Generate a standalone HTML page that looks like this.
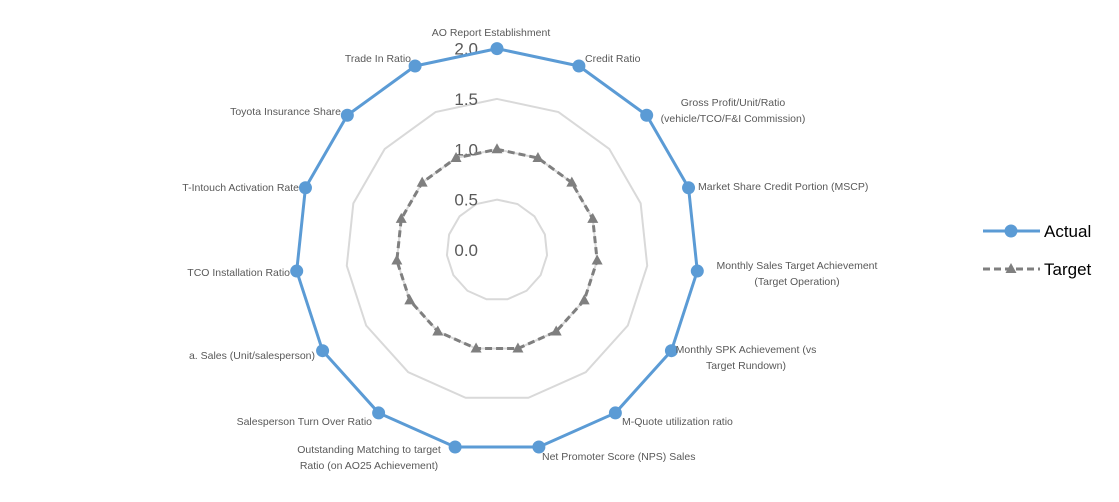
<!DOCTYPE html>
<html><head><meta charset="utf-8"><style>
html,body{margin:0;padding:0;background:#fff;}
svg{display:block;font-family:"Liberation Sans",sans-serif;}
</style></head><body>
<svg id="chart" width="1119" height="502" viewBox="0 0 1119 502"></svg>
<script>
const categories=["AO Report Establishment","Credit Ratio","Gross Profit/Unit/Ratio|(vehicle/TCO/F&I Commission)","Market Share Credit Portion (MSCP)","Monthly Sales Target Achievement|(Target Operation)","Monthly SPK Achievement (vs|Target Rundown)","M-Quote utilization ratio","Net Promoter Score (NPS) Sales","Outstanding Matching to target|Ratio (on AO25 Achievement)","Salesperson Turn Over Ratio","a. Sales (Unit/salesperson)","TCO Installation Ratio","T-Intouch Activation Rate","Toyota Insurance Share","Trade In Ratio"];
const actualValues=[2,2,2,2,2,2,2,2,2,2,2,2,2,2,2];
const targetValues=[1,1,1,1,1,1,1,1,1,1,1,1,1,1,1];
const tickValues=[0,0.5,1,1.5,2];
const tickLabels=["0.0","0.5","1.0","1.5","2.0"];
const labelPos=[[491,32,"middle"],[585,58,"start"],[733,102,"middle"],[698,186,"start"],[797,265,"middle"],[746,349,"middle"],[622,421,"start"],[542,456,"start"],[369,449,"middle"],[372,421,"end"],[315,355,"end"],[290,272,"end"],[299,187,"end"],[341,111,"end"],[411,58,"end"]];
const svg=document.getElementById('chart');
const NS="http://www.w3.org/2000/svg";
const cx=497,cy=250,rUnit=100.7;
const N=categories.length;
function rScale(v){return v*rUnit;}
function pt(i,v){const a=-Math.PI/2+i*2*Math.PI/N;return [cx+rScale(v)*Math.cos(a),cy+rScale(v)*Math.sin(a)];}
function mk(t,attrs,parent){const e=document.createElementNS(NS,t);for(const k in attrs)e.setAttribute(k,attrs[k]);(parent||svg).appendChild(e);return e;}
tickValues.forEach((tv,j)=>{
  if(tv===0)return;
  const p=categories.map((c,i)=>pt(i,tv).join(',')).join(' ');
  const g=mk('polygon',{points:p,fill:'none',stroke:'#d9d9d9','stroke-width':2});
  
  
});
tickValues.forEach((tv,j)=>{
  const t=mk('text',{x:478,y:cy-rScale(tv)+6,'text-anchor':'end','font-size':17,fill:'#595959'});
  t.textContent=tickLabels[j];
  
  
});
function series(vals,color,dash,marker,name){
  const pts=vals.map((v,i)=>pt(i,v));
  const pl=mk('polygon',{points:pts.map(p=>p.join(',')).join(' '),fill:'none',stroke:color,'stroke-width':3,'stroke-dasharray':dash||'none','stroke-linejoin':'round'});
  
  
  pts.forEach(p=>{
    let m;
    if(marker==='circle')m=mk('circle',{cx:p[0],cy:p[1],r:6.5,fill:color});
    else m=mk('polygon',{points:`${p[0]},${p[1]-6} ${p[0]-5.5},${p[1]+4} ${p[0]+5.5},${p[1]+4}`,fill:color});
    
    
  });
}
series(targetValues,'#7f7f7f','7,4','tri','target');
series(actualValues,'#5b9bd5',null,'circle','actual');
categories.forEach((c,i)=>{
  const [x,y,anc]=labelPos[i];
  const lines=c.split('|');
  const t=mk('text',{x:x,y:y+4,'text-anchor':anc,'font-size':10.5,fill:'#595959'});
  lines.forEach((l,k)=>{const s=mk('tspan',{x:x,dy:k?16:0},t);s.textContent=l;});
  
  
});
const lg=mk('g',{});


mk('line',{x1:983,y1:231,x2:1040,y2:231,stroke:'#5b9bd5','stroke-width':3},lg);
mk('circle',{cx:1011,cy:231,r:6.5,fill:'#5b9bd5'},lg);
const at=mk('text',{x:1044,y:237,'font-size':17,fill:'#000'},lg);at.textContent='Actual';


mk('line',{x1:983,y1:269,x2:1040,y2:269,stroke:'#7f7f7f','stroke-width':3,'stroke-dasharray':'7,4'},lg);
mk('polygon',{points:'1011,263 1005.5,273 1016.5,273',fill:'#7f7f7f'},lg);
const tt=mk('text',{x:1044,y:275,'font-size':17,fill:'#000'},lg);tt.textContent='Target';


</script>
</body></html>
